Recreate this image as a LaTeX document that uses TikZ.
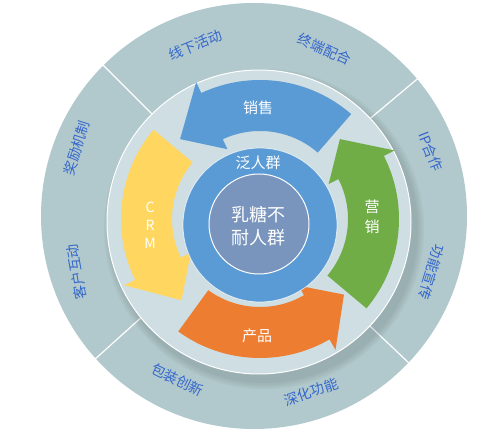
\documentclass[tikz,border=0pt]{standalone}
\usepackage{fontspec}
\setmainfont{Noto Sans CJK SC}
\definecolor{outerring}{RGB}{177,201,204}
\definecolor{midring}{RGB}{206,222,226}
\definecolor{labelblue}{RGB}{52,102,204}
\definecolor{arrowblue}{RGB}{91,155,213}
\definecolor{arrowyellow}{RGB}{255,215,96}
\definecolor{arrowgreen}{RGB}{112,173,71}
\definecolor{arroworange}{RGB}{237,125,49}
\definecolor{coregray}{RGB}{121,149,189}
\tikzset{
  outerlabel/.style={text=labelblue, inner sep=0pt, font=\fontsize{14}{14}\selectfont},
  arrowlabel/.style={text=white, inner sep=0pt, align=center, font=\fontsize{15}{20}\selectfont},
}
% color, tail angle, base angle, tip angle
\newcommand{\cyclearrow}[4]{%
  \fill[#1] (#2:139) arc[start angle=#2, end angle=#3, radius=139]
    -- (#3:151) -- (#4:113) -- (#3:77) -- (#3:88)
    arc[start angle=#3, end angle=#2, radius=88] -- cycle;
}
\begin{document}
\begin{tikzpicture}[x=1pt,y=1pt]
\useasboundingbox (0,0) rectangle (501,434);

% outer ring
\begin{scope}[shift={(254,218)}]
  \fill[outerring] (0,0) circle (213);
  \foreach \a in {135,40,-43.5,-138}
    \draw[white, line width=1.2] (\a:140) -- (\a:214);

  \node[outerlabel, rotate=22] (xianxia) at (109:181) {线下活动};
  \node[outerlabel, rotate=-24] (zhongduan) at (67:181) {终端配合};
  \node[outerlabel, rotate=-68] (iphezuo) at (20:188) {IP合作};
  \node[outerlabel, rotate=-107] (gongneng) at (-17.6:186) {功能宣传};
  \node[outerlabel, rotate=19] (shenhua) at (-72:185) {深化功能};
  \node[outerlabel, rotate=-26] (baozhuang) at (-115:181) {包装创新};
  \node[outerlabel, rotate=100] (kehu) at (197.5:186) {客户互动};
  \node[outerlabel, rotate=72] (jiangli) at (159:190) {奖励机制};
\end{scope}

% middle ring, soft shadow first
\foreach \r in {160,158,156,154}
  \fill[black, opacity=0.03] (264,205) circle (\r);
\fill[midring] (259,212) circle (152);
\draw[white, line width=1] (259,212) circle (152);

% arrows
\begin{scope}[shift={(260,215)}]
  \cyclearrow{arrowblue}{49}{115}{135}
  \cyclearrow{arrowyellow}{140}{206}{226}
  \cyclearrow{arroworange}{234}{300}{318}
  \cyclearrow{arrowgreen}{320}{387}{405}
\end{scope}

\node[arrowlabel] (xiaoshou) at (258,326) {销售};
\node[arrowlabel] (yingxiao) at (372,217) {营\\销};
\node[arrowlabel] (chanpin) at (257,98) {产品};
\node[arrowlabel, font=\fontsize{14}{18}\selectfont] (crm) at (150,209) {C\\R\\M};

% core circles
\fill[arrowblue] (260,209) circle (77);
\draw[white, opacity=0.7, line width=0.8] (260,209) circle (77);
\fill[coregray] (259,210) circle (50);
\draw[white, line width=1] (259,210) circle (50);

\node[arrowlabel] (fanrenqun) at (258,271) {泛人群};
\node[arrowlabel, font=\fontsize{18}{23}\selectfont] (rutang) at (258,208) {乳糖不\\耐人群};
\end{tikzpicture}
\end{document}
